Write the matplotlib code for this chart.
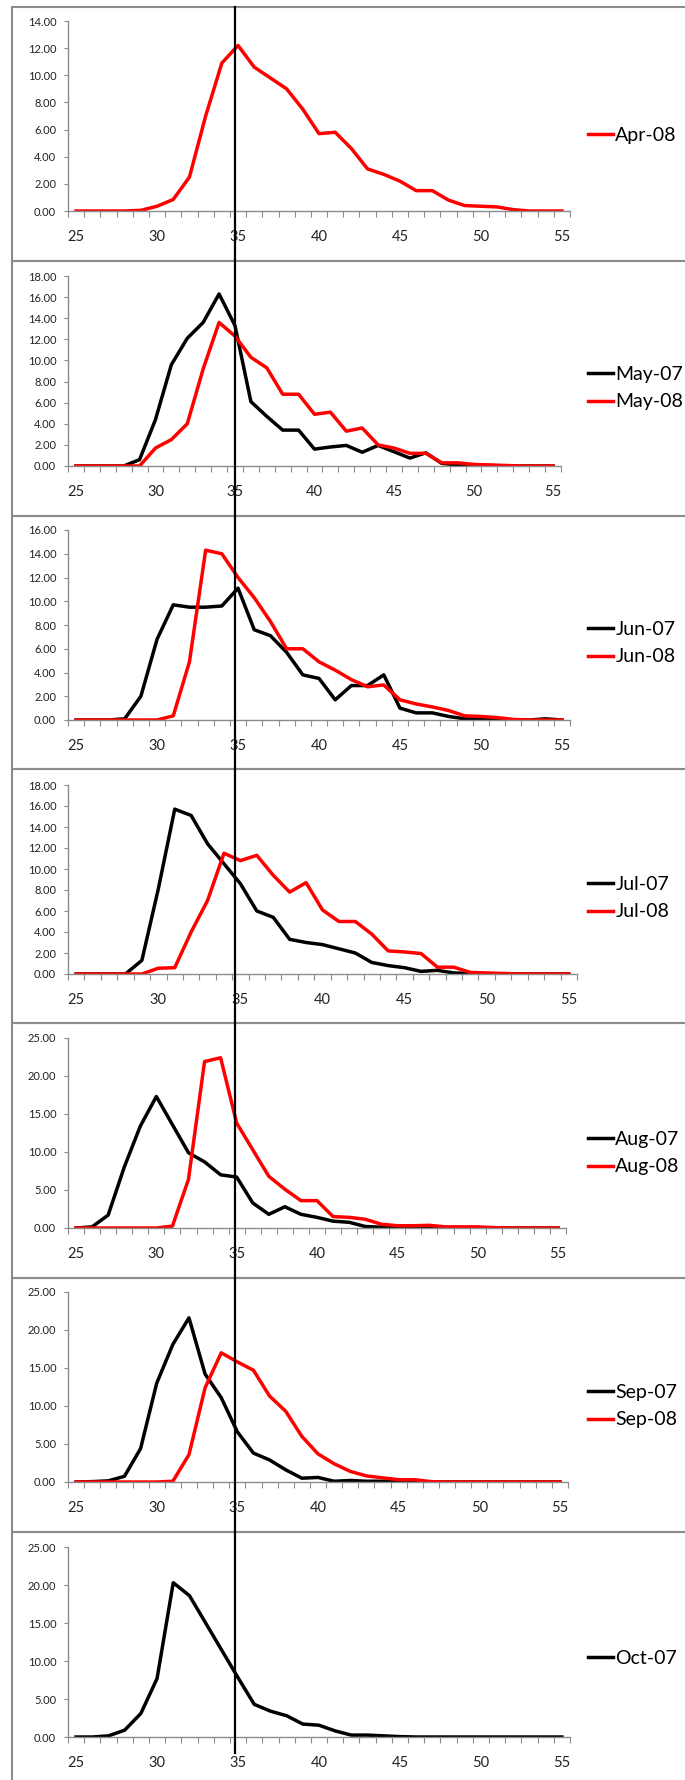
import matplotlib
matplotlib.use('Agg')
import matplotlib.pyplot as plt
from matplotlib.lines import Line2D
from matplotlib.patches import Rectangle

plt.rcParams['font.family'] = ['Lato', 'DejaVu Sans']

# size classes 25..55
cats = list(range(25, 56))

apr08 = [0, 0, 0, 0, 0.05, 0.35, 0.85, 2.5, 7.0, 10.9, 12.2, 10.6, 9.8, 9.0, 7.5, 5.7,
         5.8, 4.6, 3.1, 2.7, 2.2, 1.5, 1.5, 0.8, 0.4, 0.35, 0.3, 0.1, 0, 0, 0]
may07 = [0, 0, 0, 0, 0.6, 4.4, 9.6, 12.1, 13.6, 16.3, 13.3, 6.1, 4.7, 3.4, 3.4, 1.6,
         1.8, 1.95, 1.3, 1.95, 1.35, 0.75, 1.25, 0.25, 0.1, 0.05, 0.05, 0, 0, 0, 0]
may08 = [0, 0, 0, 0, 0, 1.7, 2.5, 4.0, 9.2, 13.6, 12.3, 10.3, 9.3, 6.8, 6.8, 4.9,
         5.1, 3.3, 3.6, 2.0, 1.7, 1.2, 1.2, 0.3, 0.3, 0.15, 0.1, 0.05, 0, 0, 0]
jun07 = [0, 0, 0, 0.1, 2.0, 6.8, 9.7, 9.5, 9.5, 9.6, 11.1, 7.6, 7.1, 5.7, 3.8, 3.5,
         1.7, 2.9, 2.9, 3.8, 1.0, 0.6, 0.6, 0.3, 0.1, 0.05, 0, 0, 0, 0.1, 0]
jun08 = [0, 0, 0, 0, 0, 0, 0.35, 4.9, 14.3, 14.0, 12.0, 10.3, 8.3, 6.0, 6.0, 4.9,
         4.2, 3.4, 2.8, 2.95, 1.7, 1.35, 1.1, 0.8, 0.35, 0.3, 0.2, 0.05, 0, 0, 0]
jul07 = [0, 0, 0, 0, 1.3, 8.1, 15.7, 15.1, 12.4, 10.5, 8.6, 6.0, 5.4, 3.3, 3.0, 2.8,
         2.4, 2.0, 1.1, 0.8, 0.6, 0.25, 0.35, 0.1, 0.05, 0, 0, 0, 0, 0, 0]
jul08 = [0, 0, 0, 0, 0, 0.55, 0.6, 4.0, 7.0, 11.5, 10.8, 11.3, 9.4, 7.8, 8.7, 6.1,
         5.0, 5.0, 3.8, 2.2, 2.1, 1.95, 0.65, 0.65, 0.15, 0.1, 0.05, 0, 0, 0, 0]
aug07 = [0, 0.15, 1.7, 8.0, 13.4, 17.3, 13.6, 9.9, 8.7, 7.0, 6.7, 3.3, 1.8, 2.8, 1.8, 1.4,
         0.9, 0.75, 0.2, 0.1, 0.1, 0, 0.05, 0, 0, 0, 0, 0, 0, 0, 0]
aug08 = [0, 0, 0, 0, 0, 0, 0.25, 6.4, 21.9, 22.4, 13.8, 10.3, 6.8, 5.1, 3.6, 3.6,
         1.5, 1.4, 1.15, 0.5, 0.3, 0.3, 0.35, 0.15, 0.15, 0.15, 0.05, 0, 0, 0, 0]
sep07 = [0, 0.05, 0.15, 0.75, 4.4, 13.0, 18.1, 21.6, 14.2, 11.1, 6.6, 3.8, 2.9, 1.6, 0.5, 0.6,
         0.1, 0.2, 0.1, 0.1, 0.05, 0, 0, 0, 0, 0, 0, 0, 0, 0, 0]
sep08 = [0, 0, 0, 0, 0, 0, 0.1, 3.6, 12.4, 17.0, 15.8, 14.7, 11.3, 9.3, 6.0, 3.7,
         2.4, 1.4, 0.8, 0.55, 0.3, 0.3, 0.05, 0, 0, 0, 0, 0, 0, 0, 0]
oct07 = [0, 0, 0.15, 0.9, 3.1, 7.7, 20.3, 18.6, 15.0, 11.4, 7.8, 4.3, 3.4, 2.8, 1.7, 1.55,
         0.8, 0.25, 0.25, 0.15, 0.05, 0, 0, 0, 0, 0, 0, 0, 0, 0, 0]

W, H = 685, 1780
fig = plt.figure(figsize=(W / 100, H / 100), dpi=100)

def fx(p):
    return p / W

def fy(p):
    return 1 - p / H

# panel: series, y max, y step, axes right px, y top px, y bottom px, box top, box bottom, legend center y
panels = [
    ([('Apr-08', apr08, 'red')], 14, 2, 570, 21, 211, 7, 261, 135),
    ([('May-07', may07, 'black'), ('May-08', may08, 'red')], 18, 2, 561, 276, 466, 261, 516, 388),
    ([('Jun-07', jun07, 'black'), ('Jun-08', jun08, 'red')], 16, 2, 570, 530, 720, 516, 769, 643),
    ([('Jul-07', jul07, 'black'), ('Jul-08', jul08, 'red')], 18, 2, 577, 785, 974, 769, 1023, 898),
    ([('Aug-07', aug07, 'black'), ('Aug-08', aug08, 'red')], 25, 5, 566, 1038, 1228, 1023, 1278, 1153),
    ([('Sep-07', sep07, 'black'), ('Sep-08', sep08, 'red')], 25, 5, 568, 1292, 1482, 1278, 1532, 1406),
    ([('Oct-07', oct07, 'black')], 25, 5, 570, 1547, 1737, 1532, 1790, 1658),
]

grey = '#8c8c8c'
left = 68

for series, ymax, ystep, right, top, bottom, btop, bbot, legy in panels:
    # panel frame
    fig.patches.append(Rectangle((fx(12), fy(bbot)), fx(720 - 12), fy(btop) - fy(bbot),
                                 transform=fig.transFigure, fill=False,
                                 edgecolor=grey, lw=1.5))
    ax = fig.add_axes([fx(left), fy(bottom), fx(right - left), fy(top) - fy(bottom)])
    for name, vals, col in series:
        ax.plot(cats, vals, color=col, lw=2.5, label=name, solid_joinstyle='round')
    ax.set_xlim(24.5, 55.5)
    ax.set_ylim(0, ymax)
    ax.set_xticks([c - 0.5 for c in cats] + [55.5])
    ax.set_xticklabels([])
    ax.set_xticks(range(25, 56, 5), minor=True)
    ax.set_xticklabels([str(v) for v in range(25, 56, 5)], minor=True, fontsize=10.5)
    ax.tick_params(axis='x', which='major', direction='out', length=4, color=grey)
    ax.tick_params(axis='x', which='minor', length=0, pad=14, colors='#222222')
    yt = list(range(0, ymax + 1, ystep))
    ax.set_yticks(yt)
    ax.set_yticklabels(['%.2f' % v for v in yt], fontsize=8)
    ax.tick_params(axis='y', direction='out', length=3, color=grey, pad=5.5, labelcolor='#222222')
    for s in ['top', 'right']:
        ax.spines[s].set_visible(False)
    for s in ['left', 'bottom']:
        ax.spines[s].set_color(grey)
        ax.spines[s].set_linewidth(1.0)
    ax.set_facecolor('none')
    ax.legend(loc='center left', bbox_to_anchor=(fx(588), fy(legy)),
              bbox_transform=fig.transFigure, frameon=False, fontsize=14,
              borderpad=0, borderaxespad=0, handlelength=1.3, handletextpad=0.1,
              labelspacing=0.55)

# reference line at size 35 through all panels
fig.lines.append(Line2D([fx(235), fx(235)], [fy(7), fy(1753)],
                        transform=fig.transFigure, color='black', lw=1.6))

fig.savefig('out.png', dpi=100)
